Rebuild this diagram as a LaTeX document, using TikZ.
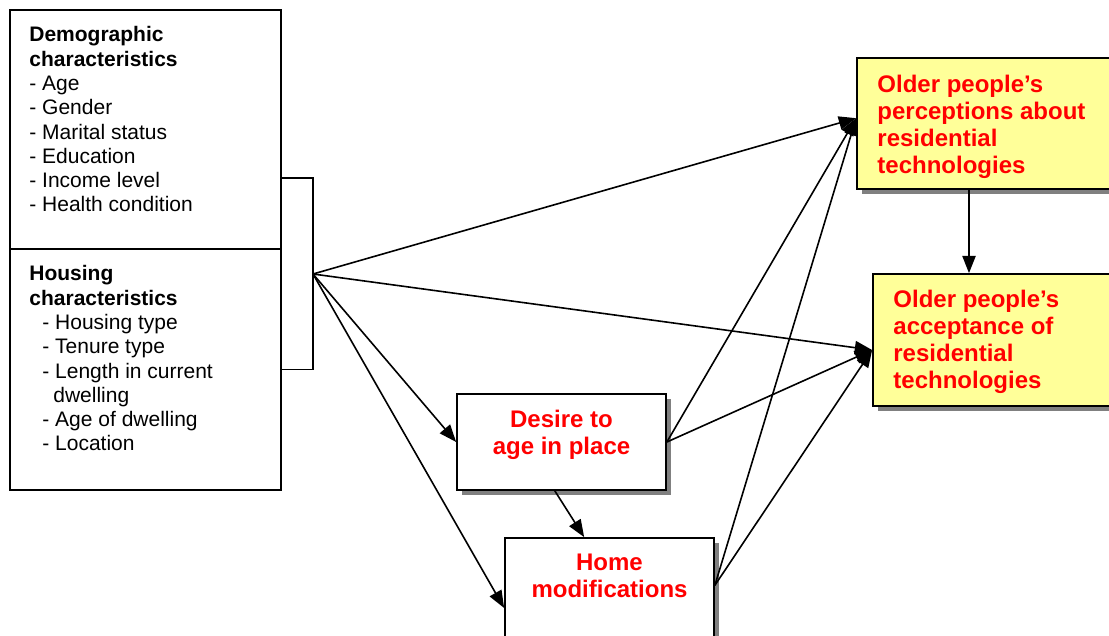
\documentclass[tikz,border=0pt]{standalone}
\usepackage{fontspec}
\setmainfont{Liberation Sans}
\usetikzlibrary{arrows.meta,shadows}
\definecolor{noteyellow}{HTML}{FFFF99}
\definecolor{shadegray}{HTML}{808080}
\tikzset{
  plainbox/.style={draw, line width=1.3pt, fill=white, inner sep=0pt},
  shadowbox/.style={plainbox, drop shadow={shadow xshift=3.75pt, shadow yshift=-3.75pt, fill=shadegray, opacity=1}},
  notebox/.style={shadowbox, fill=noteyellow},
  listtext/.style={inner sep=0pt, align=left, font=\fontsize{15.75}{18.2}\selectfont},
  redtext/.style={inner sep=0pt, text=red, font=\fontsize{18}{20.25}\selectfont\bfseries},
  arr/.style={-{Triangle[length=13pt,width=10pt]}, line width=1.2pt},
  bracket/.style={line width=1.2pt}
}

\begin{document}
\begin{tikzpicture}[x=0.75pt, y=-0.75pt]
  \clip (0,0) rectangle (1109,635);
  \fill[white] (0,0) rectangle (1109,635);

  % background variables
  \node[plainbox, minimum width=203.25pt, minimum height=179.25pt] (demo) at (145.5,129.5) {};
  \node[plainbox, minimum width=203.25pt, minimum height=180.75pt] (housing) at (145.5,369.5) {};
  \node[listtext, anchor=north west] (demotxt) at ([xshift=15pt,yshift=-13pt]demo.north west)
    {\textbf{Demographic}\\\textbf{characteristics}\\- Age\\- Gender\\- Marital status\\- Education\\- Income level\\- Health condition};
  \node[listtext, anchor=north west] (housingtxt) at ([xshift=15pt,yshift=-13pt]housing.north west)
    {\textbf{Housing}\\\textbf{characteristics}\\\hspace*{9.75pt}- Housing type\\\hspace*{9.75pt}- Tenure type\\\hspace*{9.75pt}- Length in current\\\hspace*{18pt}dwelling\\\hspace*{9.75pt}- Age of dwelling\\\hspace*{9.75pt}- Location};

  % outcomes
  \node[notebox, minimum width=193.5pt, minimum height=98.25pt] (perc) at (986,123.5) {};
  \node[redtext, anchor=north west, align=left] (perctxt) at ([xshift=15.75pt,yshift=-13pt]perc.north west)
    {Older people’s\\perceptions about\\residential\\technologies};
  \node[notebox, minimum width=181.5pt, minimum height=99pt] (accept) at (994,340) {};
  \node[redtext, anchor=north west, align=left] (accepttxt) at ([xshift=15.75pt,yshift=-12.2pt]accept.north west)
    {Older people’s\\acceptance of\\residential\\technologies};

  % mediators
  \node[shadowbox, minimum width=156.75pt, minimum height=72pt] (desire) at (561.5,442) {};
  \node[redtext, anchor=north, align=center] (desiretxt) at ([yshift=-12.2pt]desire.north) {Desire to\\age in place};
  \node[shadowbox, minimum width=156.75pt, minimum height=75pt] (home) at (609.5,588) {};
  \node[redtext, anchor=north, align=center] (hometxt) at ([yshift=-12.2pt]home.north) {Home\\modifications};

  \coordinate (hub) at (313,274);
  \coordinate (brtop) at (281,178);
  \coordinate (percin) at ([yshift=4pt]perc.west);
  \coordinate (acceptin) at ([yshift=-7.5pt]accept.west);
  \coordinate (homein) at ([yshift=-15pt]home.west);
  \coordinate (homeout) at ([yshift=2pt]home.east);

  \draw[bracket] (brtop) -| (hub) |- (housing.east);
  \path[arr]
    (hub) edge (percin)
    (hub) edge (acceptin)
    (hub) edge (desire.west)
    (hub) edge (homein)
    (desire.east) edge (percin)
    (desire.east) edge (acceptin)
    (homeout) edge (percin)
    (homeout) edge (acceptin);
  \draw[arr] ([xshift=-5pt]desire.south) -- ([xshift=-19pt]home.north);
  \draw[arr] ([xshift=-12.75pt]perc.south) -- ([xshift=-12.75pt]perc.south |- accept.north);
\end{tikzpicture}
\end{document}
